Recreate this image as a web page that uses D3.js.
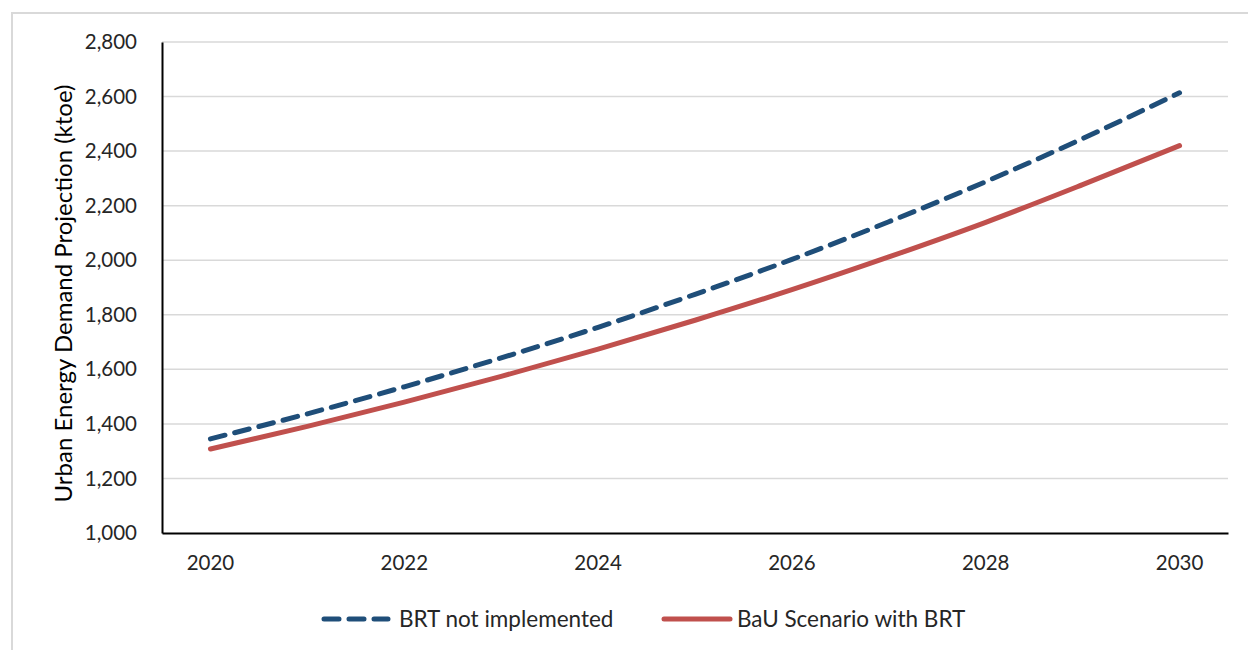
<!DOCTYPE html>
<html>
<head>
<meta charset="utf-8">
<script src="https://cdn.jsdelivr.net/npm/d3@7"></script>
<style>
  html, body { margin: 0; padding: 0; background: #fff; }
  svg { display: block; font-family: Lato, "Open Sans", sans-serif; }
</style>
</head>
<body>
<svg id="chart" width="1248" height="650"></svg>
<script>
// Urban energy demand projections, ktoe
const years = [2020, 2021, 2022, 2023, 2024, 2025, 2026, 2027, 2028, 2029, 2030];
const brtNotImplemented = [1345, 1437, 1536, 1642, 1754, 1875, 2003, 2141, 2288, 2446, 2614];
const bauWithBrt = [1308, 1391, 1480, 1574, 1674, 1780, 1892, 2012, 2139, 2277, 2420];
const yTicks = [1000, 1200, 1400, 1600, 1800, 2000, 2200, 2400, 2600, 2800];
const xTickYears = [2020, 2022, 2024, 2026, 2028, 2030];
const seriesNames = ["BRT not implemented", "BaU Scenario with BRT"];

const svg = d3.select("#chart");

// outer chart frame
svg.append("rect")
  .attr("x", 12).attr("y", 13)
  .attr("width", 1260).attr("height", 660)
  .attr("fill", "none").attr("stroke", "#d9d9d9").attr("stroke-width", 2);

const plot = { left: 162, right: 1228, top: 42, bottom: 533 };

const x = d3.scaleBand()
  .domain(years)
  .range([plot.left, plot.right]);
const xc = d => x(d) + x.bandwidth() / 2;

const y = d3.scaleLinear()
  .domain([1000, 2800])
  .range([plot.bottom, plot.top]);

// horizontal gridlines
svg.append("g")
  .selectAll("line")
  .data(yTicks.filter(t => t !== 1000))
  .join("line")
  .attr("x1", plot.left).attr("x2", plot.right)
  .attr("y1", d => y(d)).attr("y2", d => y(d))
  .attr("stroke", "#d9d9d9").attr("stroke-width", 1.5);

// y axis
const yAxis = svg.append("g")
  .attr("transform", `translate(${plot.left},0)`)
  .call(d3.axisLeft(y).tickValues(yTicks).tickSize(0).tickPadding(25)
    .tickFormat(d3.format(",")));
yAxis.select(".domain").attr("stroke", "#000").attr("stroke-width", 2);
yAxis.selectAll("text")
  .attr("font-size", 20.5).attr("fill", "#262626")
  .attr("font-family", "Lato, sans-serif");

// x axis
const xAxis = svg.append("g")
  .attr("transform", `translate(0,${plot.bottom})`)
  .call(d3.axisBottom(x).tickValues(xTickYears).tickSize(0).tickPadding(22));
xAxis.select(".domain").attr("stroke", "#000").attr("stroke-width", 2);
xAxis.selectAll("text")
  .attr("font-size", 20.5).attr("fill", "#262626")
  .attr("font-family", "Lato, sans-serif");

// y axis title
svg.append("text")
  .attr("transform", `translate(72,${(plot.top + plot.bottom) / 2 + 6}) rotate(-90)`)
  .attr("text-anchor", "middle")
  .attr("font-size", 24)
  .attr("fill", "#000")
  .text("Urban Energy Demand Projection (ktoe)");

const line = d3.line()
  .x((d, i) => xc(years[i]))
  .y(d => y(d))
  .curve(d3.curveMonotoneX);

svg.append("path")
  .datum(bauWithBrt)
  .attr("d", line)
  .attr("fill", "none")
  .attr("stroke", "#c0504d")
  .attr("stroke-width", 5)
  .attr("stroke-linecap", "round");

svg.append("path")
  .datum(brtNotImplemented)
  .attr("d", line)
  .attr("fill", "none")
  .attr("stroke", "#1f4e79")
  .attr("stroke-width", 5)
  .attr("stroke-linecap", "round")
  .attr("stroke-dasharray", "15 10");

// legend
const legend = svg.append("g");
const legendItems = [
  { name: seriesNames[0], color: "#1f4e79", dash: "15 10", x0: 324, len: 64, gap: 11 },
  { name: seriesNames[1], color: "#c0504d", dash: null, x0: 664, len: 66, gap: 7 }
];
legendItems.forEach(it => {
  legend.append("line")
    .attr("x1", it.x0).attr("x2", it.x0 + it.len)
    .attr("y1", 619).attr("y2", 619)
    .attr("stroke", it.color).attr("stroke-width", 5)
    .attr("stroke-linecap", "round")
    .attr("stroke-dasharray", it.dash);
  legend.append("text")
    .attr("x", it.x0 + it.len + it.gap).attr("y", 619)
    .attr("dy", "0.35em")
    .attr("font-size", 22.5)
    .attr("fill", "#262626")
    .text(it.name);
});
</script>
</body>
</html>
